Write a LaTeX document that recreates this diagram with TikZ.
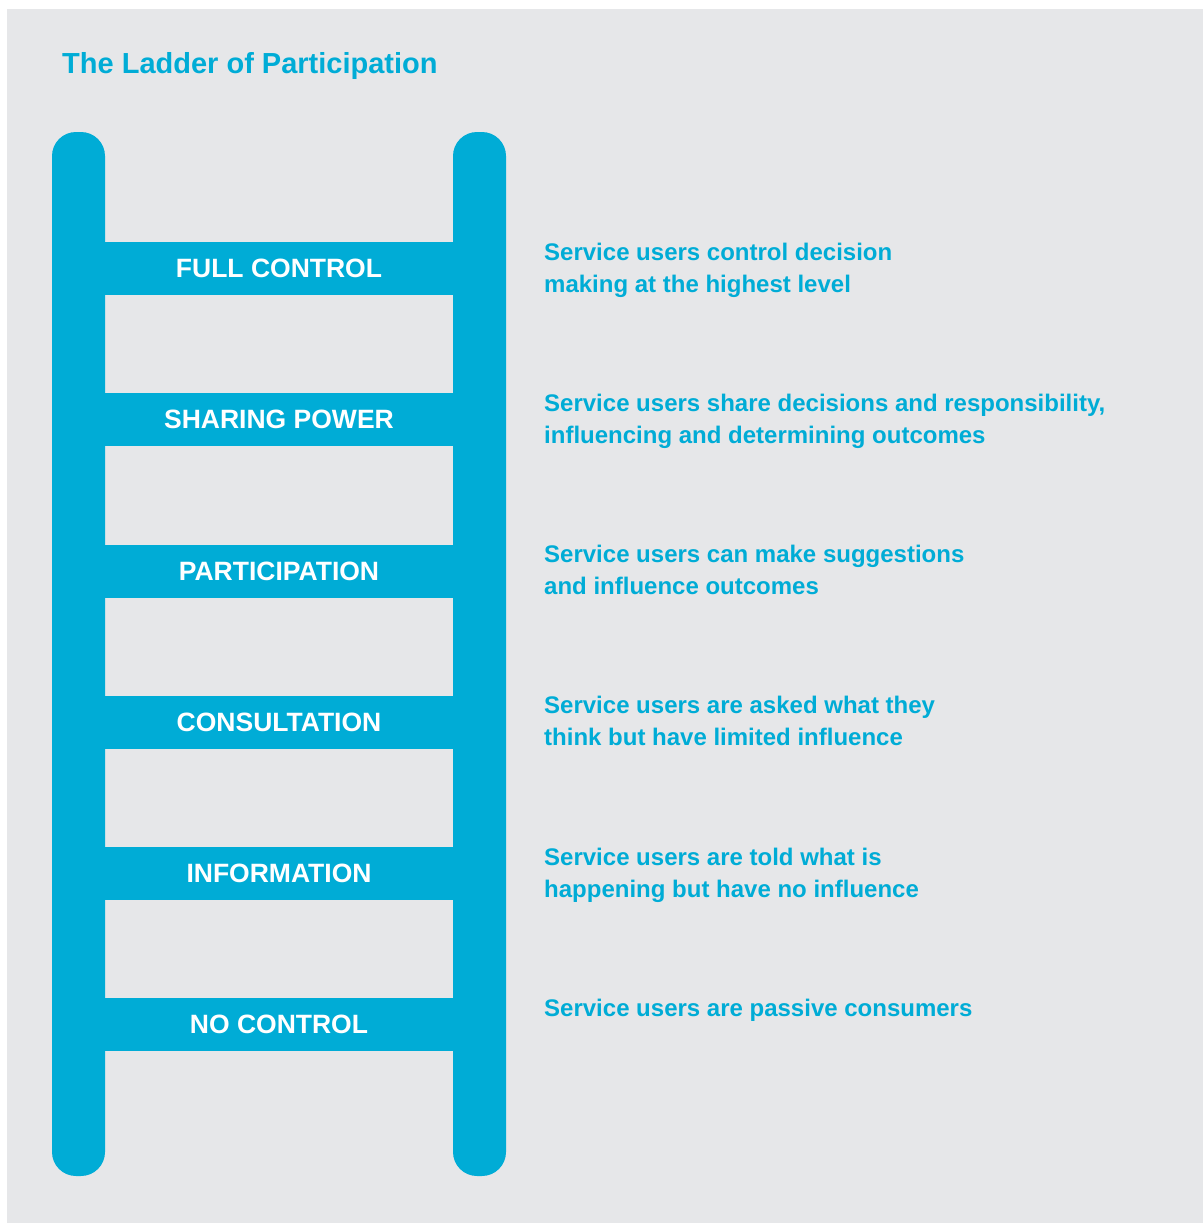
\documentclass[tikz,border=0pt]{standalone}
\usepackage{fontspec}
\setmainfont{Liberation Sans}
\definecolor{ladderblue}{RGB}{0,172,214}
\definecolor{bggrey}{RGB}{230,231,233}
\tikzset{
  rail/.style={fill=ladderblue, rounded corners=24pt},
  rung/.style={fill=ladderblue, minimum width=349pt, minimum height=53pt, inner sep=0pt,
    text=white, font=\bfseries\fontsize{26.5}{30}\selectfont},
  desc/.style={anchor=base west, inner sep=0pt, align=left, text=ladderblue,
    font=\bfseries\fontsize{24}{31.7}\selectfont},
  titlestyle/.style={anchor=base west, inner sep=0pt, text=ladderblue,
    font=\bfseries\fontsize{29}{34}\selectfont}
}
\begin{document}
\begin{tikzpicture}[x=1pt,y=-1pt]
\useasboundingbox (0,0) rectangle (1203,1224);
\fill[bggrey] (7,9) rectangle (1203,1223);
\node[titlestyle] (title) at (62,73) {The Ladder of Participation};
% rails
\fill[rail] (52,132) rectangle (105,1176);
\fill[rail] (453,132) rectangle (506,1176);
% rungs
\node[rung] (r1) at (279,268.5) {FULL CONTROL};
\node[rung] (r2) at (279,419.5) {SHARING POWER};
\node[rung] (r3) at (279,571.5) {PARTICIPATION};
\node[rung] (r4) at (279,722.5) {CONSULTATION};
\node[rung] (r5) at (279,873.5) {INFORMATION};
\node[rung] (r6) at (279,1024.5) {NO CONTROL};
% descriptions (base anchor = last line)
\node[desc] (d1) at (544,292) {Service users control decision\\making at the highest level};
\node[desc] (d2) at (544,443) {Service users share decisions and responsibility,\\influencing and determining outcomes};
\node[desc] (d3) at (544,594) {Service users can make suggestions\\and influence outcomes};
\node[desc] (d4) at (544,745) {Service users are asked what they\\think but have limited influence};
\node[desc] (d5) at (544,897) {Service users are told what is\\happening but have no influence};
\node[desc] (d6) at (544,1016) {Service users are passive consumers};
\end{tikzpicture}
\end{document}
